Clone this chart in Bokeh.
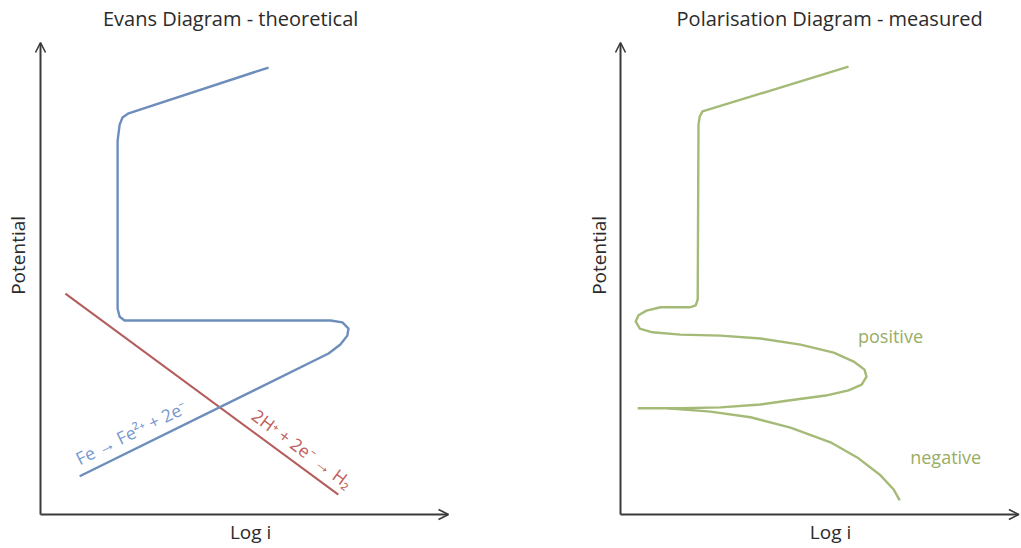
import math
from bokeh.plotting import figure
from bokeh.layouts import row
from bokeh.models import Range1d, Arrow, OpenHead, Label
from bokeh.embed import file_html
from bokeh.resources import INLINE

# ---------------- data (Log i, Potential) ----------------
# Evans diagram - theoretical
fe_logi = [5.59, 2.16, 2.01, 1.94, 1.89, 1.89, 1.94, 2.06, 7.11, 7.40, 7.55, 7.52, 7.35, 7.06, 0.96]
fe_potential = [9.47, 8.50, 8.41, 8.26, 7.92, 4.36, 4.19, 4.11, 4.11, 4.07, 3.94, 3.79, 3.60, 3.41, 0.81]
h2_logi = [0.61, 7.30]
h2_potential = [4.68, 0.42]

# Polarisation diagram - measured
pos_logi = [5.70, 2.05, 1.98, 1.95, 1.93, 1.88, 1.73, 1.00, 0.65, 0.45, 0.38, 0.48, 0.80, 1.50,
            2.50, 3.50, 4.50, 5.33, 5.83, 6.10, 6.15, 6.03, 5.70, 5.13, 4.25, 3.50, 2.50, 1.50, 0.43]
pos_potential = [9.49, 8.54, 8.43, 8.26, 4.56, 4.43, 4.39, 4.39, 4.32, 4.22, 4.09, 3.94, 3.86, 3.81,
                 3.79, 3.73, 3.60, 3.43, 3.24, 3.07, 2.92, 2.75, 2.63, 2.52, 2.42, 2.33, 2.27, 2.25, 2.25]
neg_logi = [1.18, 2.25, 3.25, 4.25, 5.25, 5.95, 6.50, 6.83, 6.98]
neg_potential = [2.25, 2.18, 2.06, 1.84, 1.53, 1.19, 0.83, 0.53, 0.30]

titles = ["Evans Diagram - theoretical", "Polarisation Diagram - measured"]
x_label = "Log i"
y_label = "Potential"
fe_text = "Fe \u2192 Fe\u00b2\u207a + 2e\u207b"
h2_text = "2H\u207a + 2e\u207b \u2192 H\u2082"

FONT = "Open Sans"
AXIS_COLOR = "#3a3a3a"
TEXT_COLOR = "#2b2b2b"
BLUE = "#6d8dbb"
RED = "#b35c5a"
GREEN = "#a4ba76"
BLUE_TXT = "#7497cf"
RED_TXT = "#c0605c"
GREEN_TXT = "#98ad66"

PX_Y = 47.2   # pixels per potential unit
H = 548


def make_fig(width, px_x, origin_x):
    # the frame covers the whole canvas so that titles and axis labels are not clipped
    x0 = -origin_x / px_x
    x1 = (width - origin_x) / px_x
    y0 = (514 - H) / PX_Y
    y1 = 514 / PX_Y
    p = figure(frame_width=width, frame_height=H,
               x_range=Range1d(x0, x1), y_range=Range1d(y0, y1),
               min_border_left=0, min_border_right=0,
               min_border_top=0, min_border_bottom=0,
               x_axis_type=None, y_axis_type=None,
               toolbar_location=None, output_backend="svg")
    p.outline_line_color = None
    p.background_fill_color = "white"
    p.border_fill_color = "white"
    return p


def add_axes(p, x_tip, title, title_x, label_x, ylab_x):
    head = dict(size=10, line_width=1.6, line_color=AXIS_COLOR)
    p.add_layout(Arrow(x_start=0, y_start=0, x_end=0, y_end=10,
                       end=OpenHead(**head), line_width=2, line_color=AXIS_COLOR))
    p.add_layout(Arrow(x_start=0, y_start=0, x_end=x_tip, y_end=0,
                       end=OpenHead(**head), line_width=2, line_color=AXIS_COLOR))
    p.add_layout(Label(x=title_x, y=10.51, text=title, text_align="center",
                       text_baseline="middle", text_font=FONT,
                       text_font_size="20px", text_color=TEXT_COLOR))
    p.add_layout(Label(x=label_x, y=-0.37, text=x_label, text_align="center",
                       text_baseline="middle", text_font=FONT,
                       text_font_size="19px", text_color=TEXT_COLOR))
    p.add_layout(Label(x=ylab_x, y=5.49, text=y_label, text_align="center",
                       text_baseline="middle", angle=90, angle_units="deg",
                       text_font=FONT, text_font_size="19px", text_color=TEXT_COLOR))


# ---------------- left: Evans diagram ----------------
p1 = make_fig(580, 40.8, 40)
add_axes(p1, 10, titles[0], 4.66, 5.15, -0.54)
p1.line(h2_logi, h2_potential, line_color=RED, line_width=2)
p1.line(fe_logi, fe_potential, line_color=BLUE, line_width=2.4, line_join="round")
p1.add_layout(Label(x=2.22, y=1.74, text=fe_text, text_align="center", text_baseline="middle",
                    angle=26.2, angle_units="deg", text_font=FONT,
                    text_font_size="17.5px", text_color=BLUE_TXT))
p1.add_layout(Label(x=6.42, y=1.40, text=h2_text, text_align="center", text_baseline="middle",
                    angle=-36.5, angle_units="deg", text_font=FONT,
                    text_font_size="17.5px", text_color=RED_TXT))

# ---------------- right: Polarisation diagram ----------------
p2 = make_fig(441, 40.0, 40)
add_axes(p2, 9.96, titles[1], 5.23, 5.25, -0.55)
p2.line(pos_logi, pos_potential, line_color=GREEN, line_width=2.4, line_join="round")
p2.line(neg_logi, neg_potential, line_color=GREEN, line_width=2.4, line_join="round")
p2.add_layout(Label(x=6.75, y=3.79, text="positive", text_align="center", text_baseline="middle",
                    text_font=FONT, text_font_size="18px", text_color=GREEN_TXT))
p2.add_layout(Label(x=8.13, y=1.21, text="negative", text_align="center", text_baseline="middle",
                    text_font=FONT, text_font_size="18px", text_color=GREEN_TXT))

layout = row(p1, p2)
open("out.html", "w").write(file_html(layout, INLINE))
